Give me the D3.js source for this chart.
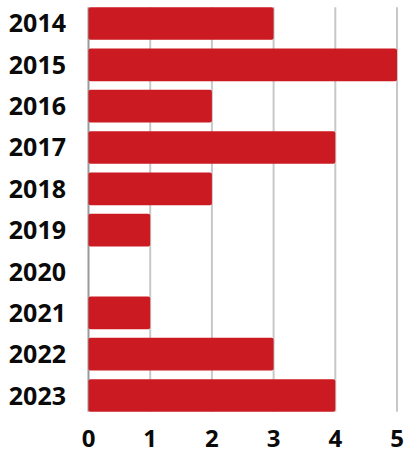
<!DOCTYPE html>
<html><head><meta charset="utf-8">
<script src="https://cdn.jsdelivr.net/npm/d3@7"></script>
<style>body{margin:0;background:#fff}svg{display:block}</style>
</head><body><div id="c"></div>
<script>
const years = ["2014","2015","2016","2017","2018","2019","2020","2021","2022","2023"];
const values = [3,5,2,4,2,1,0,1,3,4];
const xTicks = [0,1,2,3,4,5];

const W = 404, H = 454;
const svg = d3.select("#c").append("svg").attr("width", W).attr("height", H);
const x = d3.scaleLinear().domain([0,5]).range([88.5, 397]);
const y = d3.scaleBand().domain(years).range([3, 416]).paddingInner(0.21).paddingOuter(0.1);
const top0 = y(years[0]), bot = y(years[years.length-1]) + y.bandwidth();

svg.append("g").selectAll("line").data(xTicks).join("line")
  .attr("x1", d => x(d)).attr("x2", d => x(d))
  .attr("y1", top0).attr("y2", bot)
  .attr("stroke", d => d === 0 ? "#999" : "#c8c8c8").attr("stroke-width", 2);

svg.append("g").selectAll("rect").data(values).join("rect")
  .attr("x", x(0)).attr("y", (d,i) => y(years[i]))
  .attr("width", d => x(d) - x(0)).attr("height", y.bandwidth())
  .attr("rx", 2).attr("fill", "#cc1a22");

svg.append("g").selectAll("text").data(years).join("text")
  .attr("x", 66).attr("y", d => y(d) + y.bandwidth()/2)
  .attr("dy", "0.36em").attr("text-anchor", "end")
  .attr("font-family", "'Open Sans', sans-serif").attr("font-weight", 700)
  .attr("font-size", 25).attr("fill", "#0a0a0a").text(d => d);

svg.append("g").selectAll("text").data(xTicks).join("text")
  .attr("x", d => x(d)).attr("y", 438).attr("dy", "0.36em").attr("text-anchor", "middle")
  .attr("font-family", "'Open Sans', sans-serif").attr("font-weight", 700)
  .attr("font-size", 24).attr("fill", "#0a0a0a").text(d => d);
</script></body></html>
